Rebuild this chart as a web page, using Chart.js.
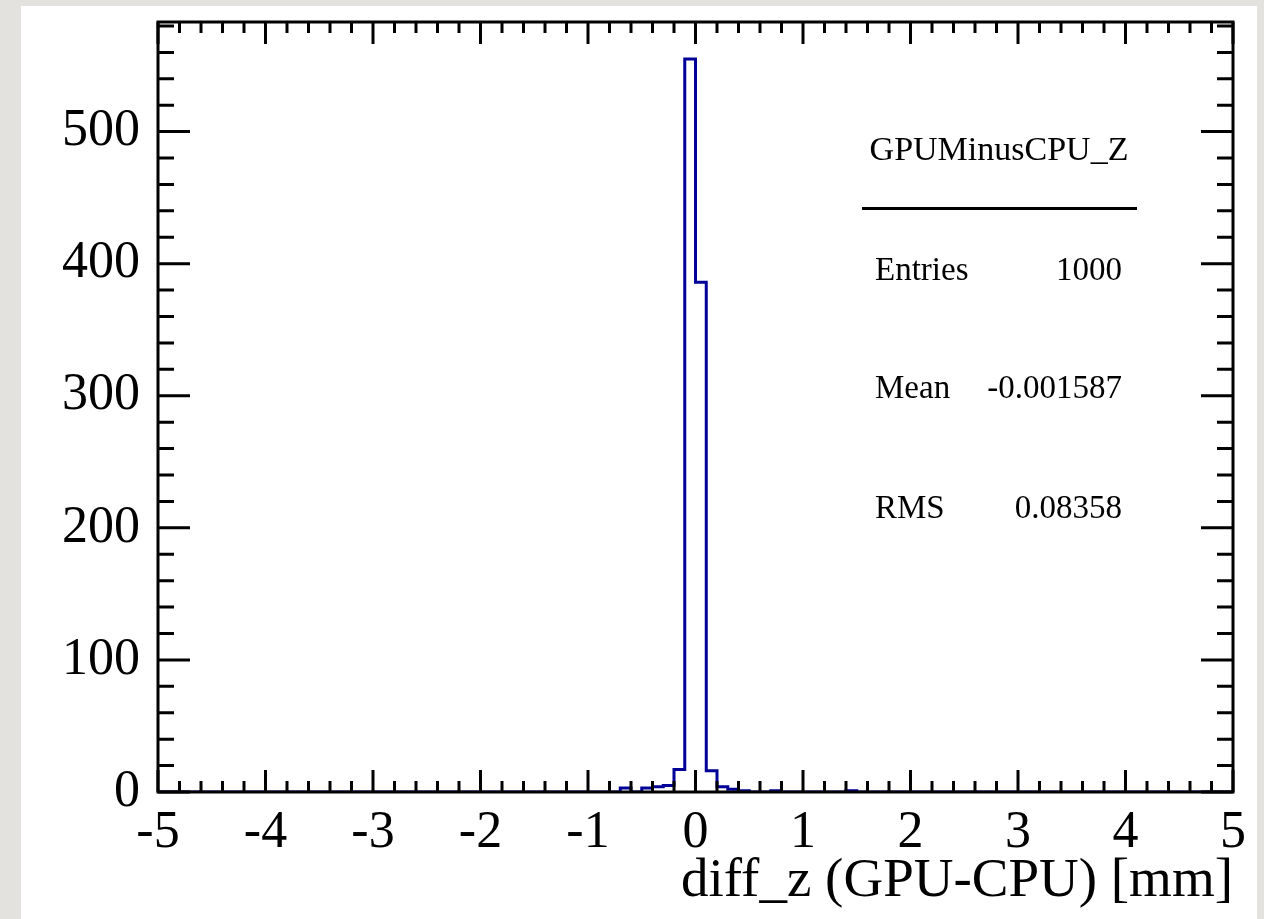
<!DOCTYPE html>
<html>
<head>
<meta charset="utf-8">
<script src="https://cdn.jsdelivr.net/npm/chart.js@4.4.1/dist/chart.umd.min.js"></script>
<style>
  html, body { margin: 0; padding: 0; }
  body { width: 1264px; height: 919px; background: #e4e2df; position: relative; overflow: hidden; }
  #pad { position: absolute; left: 21px; top: 6px; width: 1236px; height: 913px; background: #fff; }
  #graph { position: absolute; left: 0; top: 0; }
</style>
</head>
<body>
<div id="pad"></div>
<canvas id="graph" width="1264" height="919"></canvas>
<script>
// histogram definition: 100 bins from -5 to 5 mm
const xRange = [-5, 5];
const binCounts = [
  0, 0, 0, 0, 0, 0, 0, 0, 0, 0,
  0, 0, 0, 0, 0, 0, 0, 0, 0, 0,
  0, 0, 0, 0, 0, 0, 0, 0, 0, 0,
  0, 0, 0, 0, 0, 0, 0, 0, 0, 0,
  0, 0, 0, 3, 0, 3, 4, 5, 17, 555,
  386, 16, 4, 2, 1, 0, 0, 1, 0, 0,
  0, 0, 0, 0, 1, 0, 0, 0, 0, 0,
  0, 0, 0, 0, 0, 0, 0, 0, 0, 0,
  0, 0, 0, 0, 0, 0, 0, 0, 0, 0,
  0, 0, 0, 0, 0, 0, 0, 0, 0, 0
];
const yMax = 583;

const xTickValues = [-5, -4, -3, -2, -1, 0, 1, 2, 3, 4, 5];
const yTickValues = [0, 100, 200, 300, 400, 500];

const histName = "GPUMinusCPU_Z";
const statNames = ["Entries", "Mean", "RMS"];
const statValues = ["1000", "-0.001587", "0.08358"];

const FONT = "'Liberation Serif', 'Times New Roman', serif";

// -------------------------
// BUILD STEP OUTLINE
// -------------------------
function histPoints() {
  const w = (xRange[1] - xRange[0]) / binCounts.length;
  const pts = binCounts.map((c, i) => ({ x: xRange[0] + i * w, y: c }));
  pts.push({ x: xRange[1], y: binCounts[binCounts.length - 1] });
  return pts;
}

// -------------------------
// FRAME + INWARD TICKS (both sides)
// -------------------------
const frameTicks = {
  id: "frameTicks",
  afterDatasetsDraw(chart) {
    const { ctx, chartArea: a, scales } = chart;
    const x = scales.x, y = scales.y;
    ctx.save();
    ctx.strokeStyle = "#000";
    ctx.lineWidth = 3;
    ctx.beginPath();
    for (let k = 0; k <= 50; k++) {
      const px = x.getPixelForValue(xRange[0] + k * 0.2);
      const len = k % 5 === 0 ? 22 : 11;
      ctx.moveTo(px, a.bottom); ctx.lineTo(px, a.bottom - len);
      ctx.moveTo(px, a.top); ctx.lineTo(px, a.top + len);
    }
    for (let v = 0; v <= yMax; v += 20) {
      const py = y.getPixelForValue(v);
      const len = v % 100 === 0 ? 32 : 16;
      ctx.moveTo(a.left, py); ctx.lineTo(a.left + len, py);
      ctx.moveTo(a.right, py); ctx.lineTo(a.right - len, py);
    }
    ctx.stroke();
    ctx.strokeRect(a.left, a.top, a.width, a.height);
    ctx.restore();
  }
};

// -------------------------
// STATS BOX
// -------------------------
const statsBox = {
  id: "statsBox",
  afterDraw(chart) {
    const ctx = chart.ctx;
    ctx.save();
    ctx.fillStyle = "#000";
    ctx.font = "34px " + FONT;
    ctx.textBaseline = "alphabetic";
    ctx.textAlign = "center";
    ctx.fillText(histName, 999, 160);
    ctx.fillRect(862, 207, 275, 3);
    const rows = [280, 398, 518];
    ctx.font = "33px " + FONT;
    statNames.forEach((n, i) => {
      ctx.textAlign = "left";
      ctx.fillText(n, 875, rows[i]);
      ctx.textAlign = "right";
      ctx.fillText(statValues[i], 1122, rows[i]);
    });
    ctx.restore();
  }
};

// -------------------------
// INIT CHART
// -------------------------
function initChart() {
  const ctx = document.getElementById("graph").getContext("2d");

  new Chart(ctx, {
    type: "line",
    data: {
      datasets: [{
        label: histName,
        data: histPoints(),
        stepped: true,
        borderColor: "#000099",
        borderWidth: 3,
        pointRadius: 0,
        fill: false,
        tension: 0
      }]
    },
    options: {
      responsive: false,
      animation: false,
      layout: { padding: { top: 22, right: 31, left: 0, bottom: 0 } },
      plugins: { legend: { display: false }, tooltip: { enabled: false } },
      scales: {
        x: {
          type: "linear",
          min: xRange[0],
          max: xRange[1],
          grid: { display: false, drawTicks: false },
          border: { display: false },
          afterBuildTicks: s => { s.ticks = xTickValues.map(v => ({ value: v })); },
          afterFit: s => { s.height = 127; s.paddingLeft = 0; s.paddingRight = 0; },
          ticks: {
            autoSkip: false,
            maxRotation: 0,
            padding: 10,
            color: "#000",
            font: { family: FONT, size: 52 }
          },
          title: {
            display: true,
            text: "diff_z (GPU-CPU) [mm]",
            align: "end",
            color: "#000",
            font: { family: FONT, size: 55 },
            padding: { top: 0, bottom: 4 }
          }
        },
        y: {
          min: 0,
          max: yMax,
          grid: { display: false, drawTicks: false },
          border: { display: false },
          afterBuildTicks: s => { s.ticks = yTickValues.map(v => ({ value: v })); },
          afterFit: s => { s.width = 158; s.paddingTop = 0; s.paddingBottom = 0; },
          ticks: {
            padding: 18,
            color: "#000",
            font: { family: FONT, size: 52 }
          }
        }
      }
    },
    plugins: [frameTicks, statsBox]
  });
}

initChart();
</script>
</body>
</html>
